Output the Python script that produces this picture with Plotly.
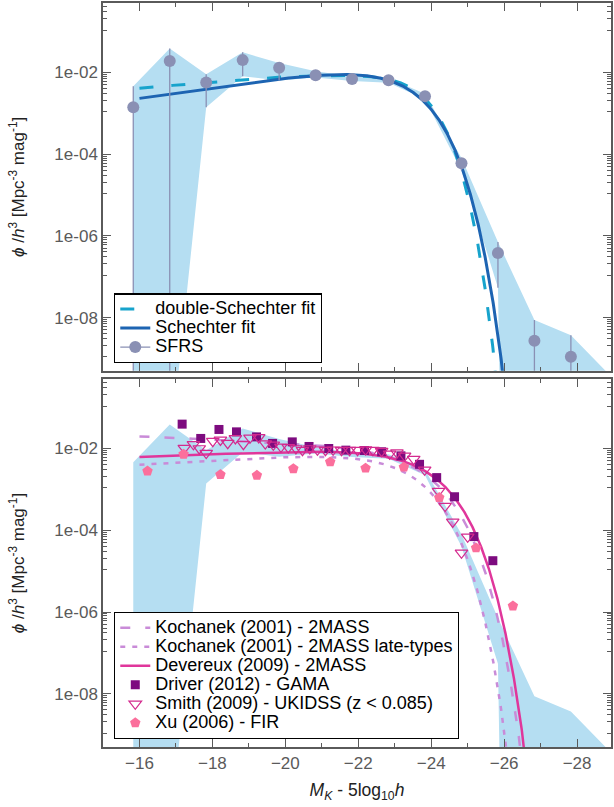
import numpy as np
import plotly.graph_objects as go

# ---------------- data ----------------
# SFRS binned K-band luminosity function (last bin: upper bound only)
sfrs_M = [-15.83, -16.83, -17.83, -18.83, -19.83, -20.83, -21.83, -22.83,
          -23.83, -24.83, -25.83, -26.83, -27.83, -28.83]
sfrs_phi = [1.4e-3, 1.9e-2, 5.7e-3, 2.0e-2, 1.3e-2, 8.5e-3, 6.9e-3, 6.4e-3,
            2.6e-3, 6.0e-5, 3.8e-7, 2.7e-9, 1.1e-9, None]
sfrs_hi = [4.6e-3, 3.86e-2, 9.0e-3, 3.1e-2, 1.7e-2, 1.07e-2, 7.9e-3, 7.2e-3,
           3.0e-3, 8.0e-5, 7.1e-7, 8.7e-9, 3.7e-9, 4.5e-10]
sfrs_lo = [1e-60, 4e-12, 1.4e-3, 8.1e-3, 6.3e-3, 7.5e-3, 6.2e-3, 5.6e-3,
           2.2e-3, 4.0e-5, 5.4e-8, 1e-60, 1e-60, 1e-60]

# Schechter fit parameters (phi*, M*, alpha)
fit_single = dict(phi_star=0.0193, M_star=-22.80, alpha=-0.675)
# double-Schechter: common M*, two components
fit_double = dict(M_star=-22.41, phi1=8.33e-3, alpha1=0.743,
                  phi2=1.452e-2, alpha2=-0.80)

# literature Schechter functions
kochanek_all = dict(phi_star=1.16e-2, M_star=-23.39, alpha=-1.09)
kochanek_late = dict(phi_star=1.01e-2, M_star=-22.98, alpha=-0.87)
devereux = dict(phi_star=0.0121, M_star=-23.46, alpha=-0.915)

# Driver (2012) GAMA
driver_M = [-17.17, -17.68, -18.18, -18.66, -19.21, -19.65, -20.19, -20.65,
            -21.19, -21.66, -22.17, -22.64, -23.17, -23.68, -24.15, -24.64,
            -25.17, -25.69]
driver_phi = [3.94e-2, 1.76e-2, 2.92e-2, 2.55e-2, 1.92e-2, 1.33e-2, 1.45e-2,
              1.12e-2, 1.0e-2, 9.1e-3, 8.9e-3, 8.3e-3, 6.6e-3, 4.1e-3,
              1.94e-3, 6.6e-4, 7.0e-5, 1.8e-5]

# Smith (2009) UKIDSS, z < 0.085
smith_M = [-17.23, -17.48, -17.64, -17.83, -18.01, -18.22, -18.42, -18.63,
           -18.85, -19.03, -19.27, -19.45, -19.67, -19.88, -20.08, -20.29,
           -20.47, -20.67, -20.88, -21.10, -21.31, -21.54, -21.76, -21.98,
           -22.20, -22.40, -22.64, -22.86, -23.06, -23.27, -23.52, -23.82,
           -24.20, -24.38, -24.59, -24.83, -25.00]
smith_phi = [1.02e-2, 1.26e-2, 1.0e-2, 7.7e-3, 1.51e-2, 1.62e-2, 1.35e-2,
             1.76e-2, 1.27e-2, 1.82e-2, 1.86e-2, 1.32e-2, 1.23e-2, 1.10e-2,
             1.06e-2, 1.0e-2, 9.1e-3, 1.0e-2, 9.3e-3, 9.1e-3, 9.3e-3, 9.1e-3,
             9.1e-3, 9.1e-3, 9.4e-3, 9.1e-3, 8.6e-3, 7.4e-3, 7.9e-3, 6.6e-3,
             5.5e-3, 3.0e-3, 9.1e-4, 3.9e-4, 1.6e-4, 2.8e-5, 6.9e-5]

# Xu (2006) FIR
xu_M = [-16.22, -17.21, -18.22, -19.22, -20.22, -21.23, -22.20, -23.25,
        -24.22, -25.23, -26.24]
xu_phi = [2.8e-3, 7.2e-3, 2.3e-3, 2.2e-3, 3.2e-3, 4.7e-3, 3.3e-3, 3.5e-3,
          6.3e-4, 3.7e-5, 1.4e-6]

x_ticks = [-16, -18, -20, -22, -24, -26, -28]
y_ticks = [1e-8, 1e-6, 1e-4, 1e-2]
y_ticktext = ["1e-08", "1e-06", "1e-04", "1e-02"]

# ---------------- helpers ----------------
LN10 = np.log(10.0)


def schechter(M, phi_star, M_star, alpha):
    x = 10 ** (0.4 * (M_star - M))
    return 0.4 * LN10 * phi_star * x ** (alpha + 1) * np.exp(-x)


def double_schechter(M, M_star, phi1, alpha1, phi2, alpha2):
    x = 10 ** (0.4 * (M_star - M))
    return 0.4 * LN10 * np.exp(-x) * (phi1 * x ** (alpha1 + 1) + phi2 * x ** (alpha2 + 1))


def key(label):
    # legend label set larger than the legend's row pitch font
    return '<span style="font-size:18px">%s</span>' % label


M_grid = np.linspace(-16.0, -28.9, 1300)

FONT = "Liberation Sans, Arial, sans-serif"
AX_COL = "#5a5a5a"
BAND_COL = "#b5def2"

fig = go.Figure()


def add_band(xa, ya):
    poly_x = list(sfrs_M) + list(sfrs_M[::-1])
    poly_y = list(sfrs_hi) + list(sfrs_lo[::-1])
    fig.add_trace(go.Scatter(
        x=poly_x, y=poly_y, xaxis=xa, yaxis=ya, mode="lines",
        fill="toself", fillcolor=BAND_COL, line=dict(width=0, color=BAND_COL),
        hoverinfo="skip", showlegend=False))


# ---------------- top panel ----------------
add_band("x2", "y2")

fig.add_trace(go.Scatter(
    x=M_grid, y=double_schechter(M_grid, **fit_double), xaxis="x2", yaxis="y2",
    mode="lines", name=key("double-Schechter fit"),
    line=dict(color="#17a3cc", width=3, dash="14px,18px"), legend="legend"))
fig.add_trace(go.Scatter(
    x=M_grid, y=schechter(M_grid, **fit_single), xaxis="x2", yaxis="y2",
    mode="lines", name=key("Schechter fit"),
    line=dict(color="#1d64b2", width=3), legend="legend"))

pts = [(m, p, h, l) for m, p, h, l in zip(sfrs_M, sfrs_phi, sfrs_hi, sfrs_lo) if p is not None]
fig.add_trace(go.Scatter(
    x=[q[0] for q in pts], y=[q[1] for q in pts], xaxis="x2", yaxis="y2",
    mode="markers", showlegend=False,
    marker=dict(symbol="circle", size=12, color="#8a90b4"),
    error_y=dict(type="data", symmetric=False,
                 array=[q[2] - q[1] for q in pts],
                 arrayminus=[q[1] - q[3] for q in pts],
                 color="#8a90b4", thickness=1.3, width=0)))
# legend key for the SFRS points (marker with error-bar stroke)
fig.add_trace(go.Scatter(
    x=[None], y=[None], xaxis="x2", yaxis="y2", mode="lines+markers",
    name=key("SFRS"), marker=dict(symbol="circle", size=12, color="#8a90b4"),
    line=dict(color="#8a90b4", width=1.3), legend="legend"))

# ---------------- bottom panel ----------------
add_band("x", "y")

fig.add_trace(go.Scatter(
    x=M_grid, y=schechter(M_grid, **kochanek_all), xaxis="x", yaxis="y",
    mode="lines", name=key("Kochanek (2001) - 2MASS"),
    line=dict(color="#c98bd8", width=2.5, dash="10px,15px"), legend="legend2"))
fig.add_trace(go.Scatter(
    x=M_grid, y=schechter(M_grid, **kochanek_late), xaxis="x", yaxis="y",
    mode="lines", name=key("Kochanek (2001) - 2MASS late-types"),
    line=dict(color="#c98bd8", width=2.5, dash="5px,7px"), legend="legend2"))
fig.add_trace(go.Scatter(
    x=M_grid, y=schechter(M_grid, **devereux), xaxis="x", yaxis="y",
    mode="lines", name=key("Devereux (2009) - 2MASS"),
    line=dict(color="#e0369b", width=2.5), legend="legend2"))
fig.add_trace(go.Scatter(
    x=driver_M, y=driver_phi, xaxis="x", yaxis="y", mode="markers",
    name=key("Driver (2012) - GAMA"),
    marker=dict(symbol="square", size=9, color="#7d0b7f"), legend="legend2"))
fig.add_trace(go.Scatter(
    x=smith_M, y=smith_phi, xaxis="x", yaxis="y", mode="markers",
    name=key("Smith (2009) - UKIDSS (z &lt; 0.085)"),
    marker=dict(symbol="triangle-down-open", size=11, color="#d42a8e",
                line=dict(width=1.2, color="#d42a8e")), legend="legend2"))
fig.add_trace(go.Scatter(
    x=xu_M, y=xu_phi, xaxis="x", yaxis="y", mode="markers",
    name=key("Xu (2006) - FIR"),
    marker=dict(symbol="pentagon", size=11, color="#fb6f9c"), legend="legend2"))

# ---------------- axes ----------------
y_minor = []
for lo in [1e-10, 1e-8, 1e-6, 1e-4, 1e-2]:
    y_minor += [lo + j * (100 * lo - lo) / 10 for j in range(1, 10)]

common_x = dict(range=[-15, -28.93], showline=True, linecolor=AX_COL, linewidth=1.5,
                mirror="allticks", ticks="inside", ticklen=8, tickwidth=1.3,
                tickcolor=AX_COL, tickvals=x_ticks, showgrid=False, zeroline=False,
                minor=dict(ticks="inside", ticklen=4, tickwidth=1.2, tickcolor=AX_COL,
                           tickvals=[-15, -17, -19, -21, -23, -25, -27]),
                tickfont=dict(family=FONT, size=17, color=AX_COL))
common_y = dict(type="log", range=[np.log10(5e-10), np.log10(0.5)], showline=True,
                linecolor=AX_COL, linewidth=1.5, mirror="allticks", ticks="inside",
                ticklen=8, tickwidth=1.3, tickcolor=AX_COL, tickvals=y_ticks,
                ticktext=y_ticktext, showgrid=False, zeroline=False,
                minor=dict(ticks="inside", ticklen=4, tickwidth=1.1, tickcolor=AX_COL,
                           tickvals=y_minor),
                tickfont=dict(family=FONT, size=17, color=AX_COL),
                title=dict(text="<i>ϕ</i> /<i>h</i><sup>3</sup> [Mpc<sup>-3</sup> mag<sup>-1</sup>]",
                           font=dict(family=FONT, size=17, color="#222"), standoff=25))

top_dom = [0.5057, 1.0]
bot_dom = [0.0, 0.4946]

legend_style = dict(xanchor="left", yanchor="bottom", bgcolor="white",
                    bordercolor="black", borderwidth=1.3, tracegroupgap=0,
                    font=dict(family=FONT, size=12, color="black"))

fig.update_layout(
    width=614, height=807,
    margin=dict(l=103, r=1, t=3, b=60),
    paper_bgcolor="white", plot_bgcolor="white",
    font=dict(family=FONT, size=17, color="#222"),
    xaxis=dict(common_x, anchor="y", domain=[0, 1],
               title=dict(text="<i>M<sub>K</sub></i> - 5log<sub>10</sub><i>h</i>",
                          font=dict(family=FONT, size=17.5, color="#222"), standoff=12)),
    xaxis2=dict(common_x, anchor="y2", domain=[0, 1], matches="x", showticklabels=False),
    yaxis=dict(common_y, anchor="x", domain=bot_dom),
    yaxis2=dict(common_y, anchor="x2", domain=top_dom),
    legend=dict(legend_style, x=0.0216, y=0.5158),
    legend2=dict(legend_style, x=0.0216, y=0.0107),
    showlegend=True,
)

fig.write_html("out.html")
